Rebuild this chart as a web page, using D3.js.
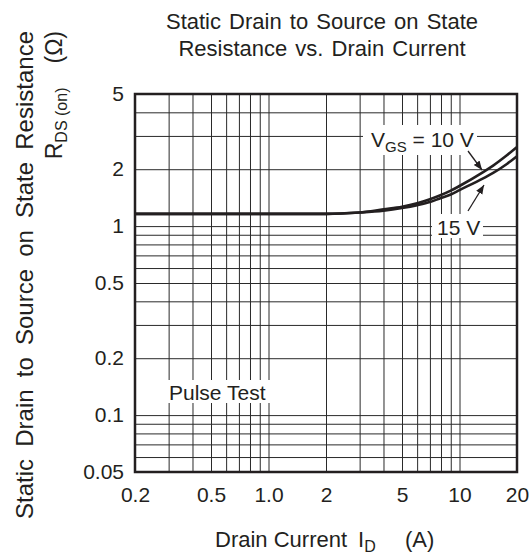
<!DOCTYPE html>
<html>
<head>
<meta charset="utf-8">
<script src="https://cdn.jsdelivr.net/npm/d3@7"></script>
<style>
  body { margin: 0; background: #fff; }
  text { font-family: "Liberation Sans", Arial, sans-serif; fill: #231f20; }
</style>
</head>
<body>
<div id="vis"></div>
<script>
const width = 531;
const height = 557;
const margin = { top: 94, right: 14, bottom: 85, left: 135 };
const pw = width - margin.left - margin.right;
const ph = height - margin.top - margin.bottom;

// drain current (A) and R_DS(on) (ohm)
const currents = [0.2, 1, 2, 3, 4, 5, 6, 7, 8, 9, 10, 13.3, 15, 17.7, 20];
const rdsVgs10 = [1.16, 1.16, 1.16, 1.18, 1.227, 1.266, 1.32, 1.386, 1.46, 1.54, 1.63, 1.93, 2.09, 2.37, 2.62];
const rdsVgs15 = [1.16, 1.16, 1.16, 1.18, 1.207, 1.246, 1.29, 1.34, 1.41, 1.47, 1.55, 1.79, 1.91, 2.13, 2.34];

const xTicks = [0.2, 0.5, 1, 2, 5, 10, 20];
const xTickLabels = ["0.2", "0.5", "1.0", "2", "5", "10", "20"];
const yTicks = [0.05, 0.1, 0.2, 0.5, 1, 2, 5];
const yTickLabels = ["0.05", "0.1", "0.2", "0.5", "1", "2", "5"];
const xGrid = [0.3, 0.4, 0.5, 0.6, 0.7, 0.8, 0.9, 1, 2, 3, 4, 5, 6, 7, 8, 9, 10];
const yGrid = [0.06, 0.07, 0.08, 0.09, 0.1, 0.2, 0.3, 0.4, 0.5, 0.6, 0.7, 0.8, 0.9, 1, 2, 3, 4];

const ink = "#231f20";

const xScale = d3.scaleLog().domain([0.2, 20]).range([0, pw]);
const yScale = d3.scaleLog().domain([0.05, 5]).range([ph, 0]);

const root = d3.select("#vis")
  .append("svg")
  .attr("width", width)
  .attr("height", height);

root.append("defs").append("marker")
  .attr("id", "head")
  .attr("viewBox", "0 0 10 10")
  .attr("refX", 10).attr("refY", 5)
  .attr("markerWidth", 9).attr("markerHeight", 9)
  .attr("markerUnits", "userSpaceOnUse")
  .attr("orient", "auto")
  .append("path")
  .attr("d", "M0,1 L10,5 L0,9 Z")
  .attr("fill", ink);

// title
const title = root.append("text")
  .attr("text-anchor", "middle")
  .style("font-size", "22px")
  .style("word-spacing", "2px");
title.append("tspan").attr("x", 322).attr("y", 29).text("Static Drain to Source on State");
title.append("tspan").attr("x", 322).attr("y", 56).text("Resistance vs. Drain Current");

const svg = root.append("g")
  .attr("transform", "translate(" + margin.left + "," + margin.top + ")");

// grid
svg.append("g")
  .attr("class", "grid")
  .attr("transform", "translate(0," + ph + ")")
  .call(d3.axisBottom(xScale).tickValues(xGrid).tickSize(-ph).tickFormat(""));
svg.append("g")
  .attr("class", "grid")
  .call(d3.axisLeft(yScale).tickValues(yGrid).tickSize(-pw).tickFormat(""));
svg.selectAll(".grid .domain").remove();
svg.selectAll(".grid line").attr("stroke", "#2a2a2a").attr("stroke-width", 1);

// tick labels
const xAxis = svg.append("g")
  .attr("transform", "translate(0," + ph + ")")
  .call(d3.axisBottom(xScale).tickValues(xTicks).tickSize(0).tickPadding(15)
    .tickFormat((d, i) => xTickLabels[i]));
const yAxis = svg.append("g")
  .call(d3.axisLeft(yScale).tickValues(yTicks).tickSize(0).tickPadding(11)
    .tickFormat((d, i) => yTickLabels[i]));
[xAxis, yAxis].forEach(a => {
  a.select(".domain").remove();
  a.selectAll("text")
    .style("font-size", "21px")
    .style("font-family", "'Liberation Sans', Arial, sans-serif")
    .attr("fill", ink);
});

// curves
const line = d3.line()
  .x((d, i) => xScale(currents[i]))
  .y(d => yScale(d))
  .curve(d3.curveMonotoneX);

svg.selectAll(".curve")
  .data([rdsVgs10, rdsVgs15])
  .enter()
  .append("path")
  .attr("class", "curve")
  .attr("d", line)
  .attr("fill", "none")
  .attr("stroke", ink)
  .attr("stroke-width", 2.6);

// annotations
svg.append("rect").attr("x", 228).attr("y", 31).attr("width", 114).attr("height", 30).attr("fill", "#fff");
const vgs = svg.append("text").attr("x", 236).attr("y", 53).style("font-size", "21px");
vgs.append("tspan").text("V");
vgs.append("tspan").attr("dy", 5).style("font-size", "15px").text("GS");
vgs.append("tspan").attr("dy", -5).text(" = 10 V");

svg.append("rect").attr("x", 297).attr("y", 120).attr("width", 51).attr("height", 24).attr("fill", "#fff");
svg.append("text").attr("x", 302).attr("y", 141).style("font-size", "21px").text("15 V");

svg.append("line")
  .attr("x1", 333).attr("y1", 57).attr("x2", 347).attr("y2", 76)
  .attr("stroke", ink).attr("stroke-width", 1.3).attr("marker-end", "url(#head)");
svg.append("line")
  .attr("x1", 333).attr("y1", 117).attr("x2", 349).attr("y2", 91)
  .attr("stroke", ink).attr("stroke-width", 1.3).attr("marker-end", "url(#head)");

svg.append("rect").attr("x", 31).attr("y", 286).attr("width", 104).attr("height", 23).attr("fill", "#fff");
svg.append("text").attr("x", 34).attr("y", 306).style("font-size", "21px").text("Pulse Test");

// frame
svg.append("rect")
  .attr("width", pw).attr("height", ph)
  .attr("fill", "none")
  .attr("stroke", ink)
  .attr("stroke-width", 2.5);

// axis titles
const xt = root.append("text").attr("y", 547).style("font-size", "22px");
xt.append("tspan").attr("x", 215).text("Drain Current");
xt.append("tspan").attr("x", 358).text("I");
xt.append("tspan").attr("dy", 5).style("font-size", "16px").text("D");
xt.append("tspan").attr("dy", -5).attr("x", 405).text("(A)");

const yt = root.append("g").attr("transform", "rotate(-90)");
yt.append("text").attr("x", -31).attr("y", 33)
  .attr("text-anchor", "end")
  .style("font-size", "24px")
  .style("word-spacing", "5.5px")
  .text("Static Drain to Source on State Resistance");
const yt2 = yt.append("text").attr("x", -31).attr("y", 62)
  .attr("text-anchor", "end").style("font-size", "23px");
yt2.append("tspan").text("R");
yt2.append("tspan").attr("dy", 5).style("font-size", "16px").text("DS (on)");
yt2.append("tspan").attr("dy", -5).attr("dx", 24).text("(Ω)");
</script>
</body>
</html>
